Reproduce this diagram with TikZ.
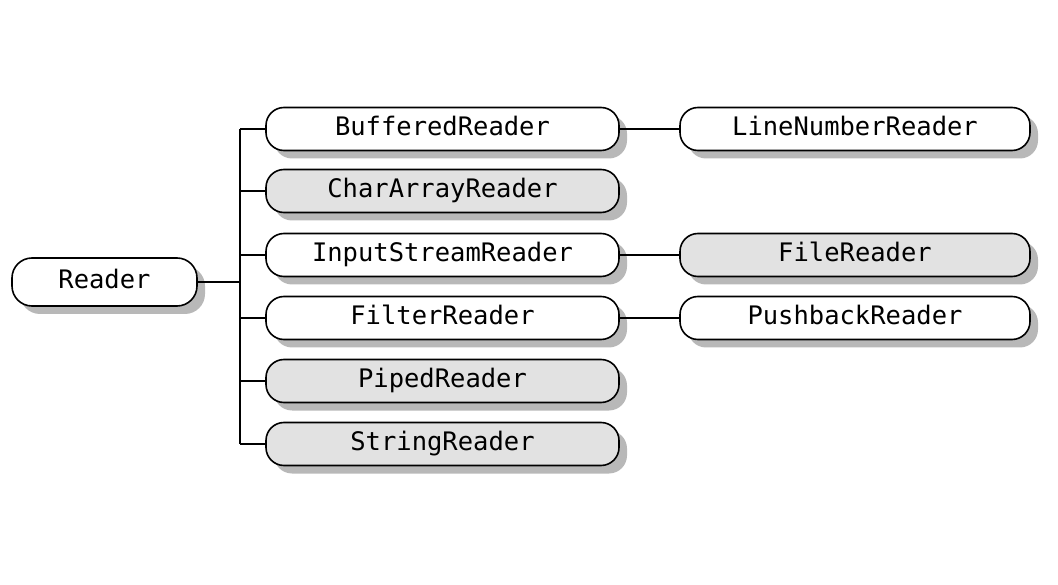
\documentclass[tikz,border=0pt]{standalone}
\usepackage{fontspec}
\setmonofont{DejaVu Sans Mono}
\usetikzlibrary{shadows}
\definecolor{boxgray}{HTML}{E2E2E2}
\definecolor{shadowgray}{HTML}{B8B8B8}
\tikzset{
  cls/.style={draw=black, line width=1.6pt, fill=white, rectangle, rounded corners=18pt,
    minimum width=353pt, minimum height=43pt, inner sep=0pt,
    text height=18pt, text depth=5pt,
    font=\ttfamily\fontsize{25.5}{25.5}\selectfont,
    drop shadow={shadow xshift=8pt, shadow yshift=-8pt, fill=shadowgray, opacity=1}},
  grayc/.style={cls, fill=boxgray},
  link/.style={draw=black, line width=1.6pt}
}
\begin{document}
\begin{tikzpicture}[x=1pt,y=-1pt]
\useasboundingbox (0,0) rectangle (1058,585);
\node[cls, minimum width=185pt, minimum height=48pt, rounded corners=20pt] (reader) at (104.5,282) {Reader};
\node[cls] (buf) at (442.5,129) {BufferedReader};
\node[grayc] (car) at (442.5,191) {CharArrayReader};
\node[cls] (isr) at (442.5,255) {InputStreamReader};
\node[cls] (fil) at (442.5,318) {FilterReader};
\node[grayc] (pip) at (442.5,381) {PipedReader};
\node[grayc] (str) at (442.5,444) {StringReader};
\node[cls, minimum width=350pt] (lnr) at (855,129) {LineNumberReader};
\node[grayc, minimum width=350pt] (fr) at (855,255) {FileReader};
\node[cls, minimum width=350pt] (pbr) at (855,318) {PushbackReader};
\coordinate (trunkTop) at (240,129);
\coordinate (trunkBot) at (240,444);
\draw[link] (trunkTop) -- (trunkBot);
\draw[link] (reader.east) -- (reader.east -| trunkTop);
\foreach \n in {buf,car,isr,fil,pip,str}{
  \draw[link] (\n.west -| trunkTop) -- (\n.west);
}
\draw[link] (buf.east) -- (lnr.west);
\draw[link] (isr.east) -- (fr.west);
\draw[link] (fil.east) -- (pbr.west);
\end{tikzpicture}
\end{document}
